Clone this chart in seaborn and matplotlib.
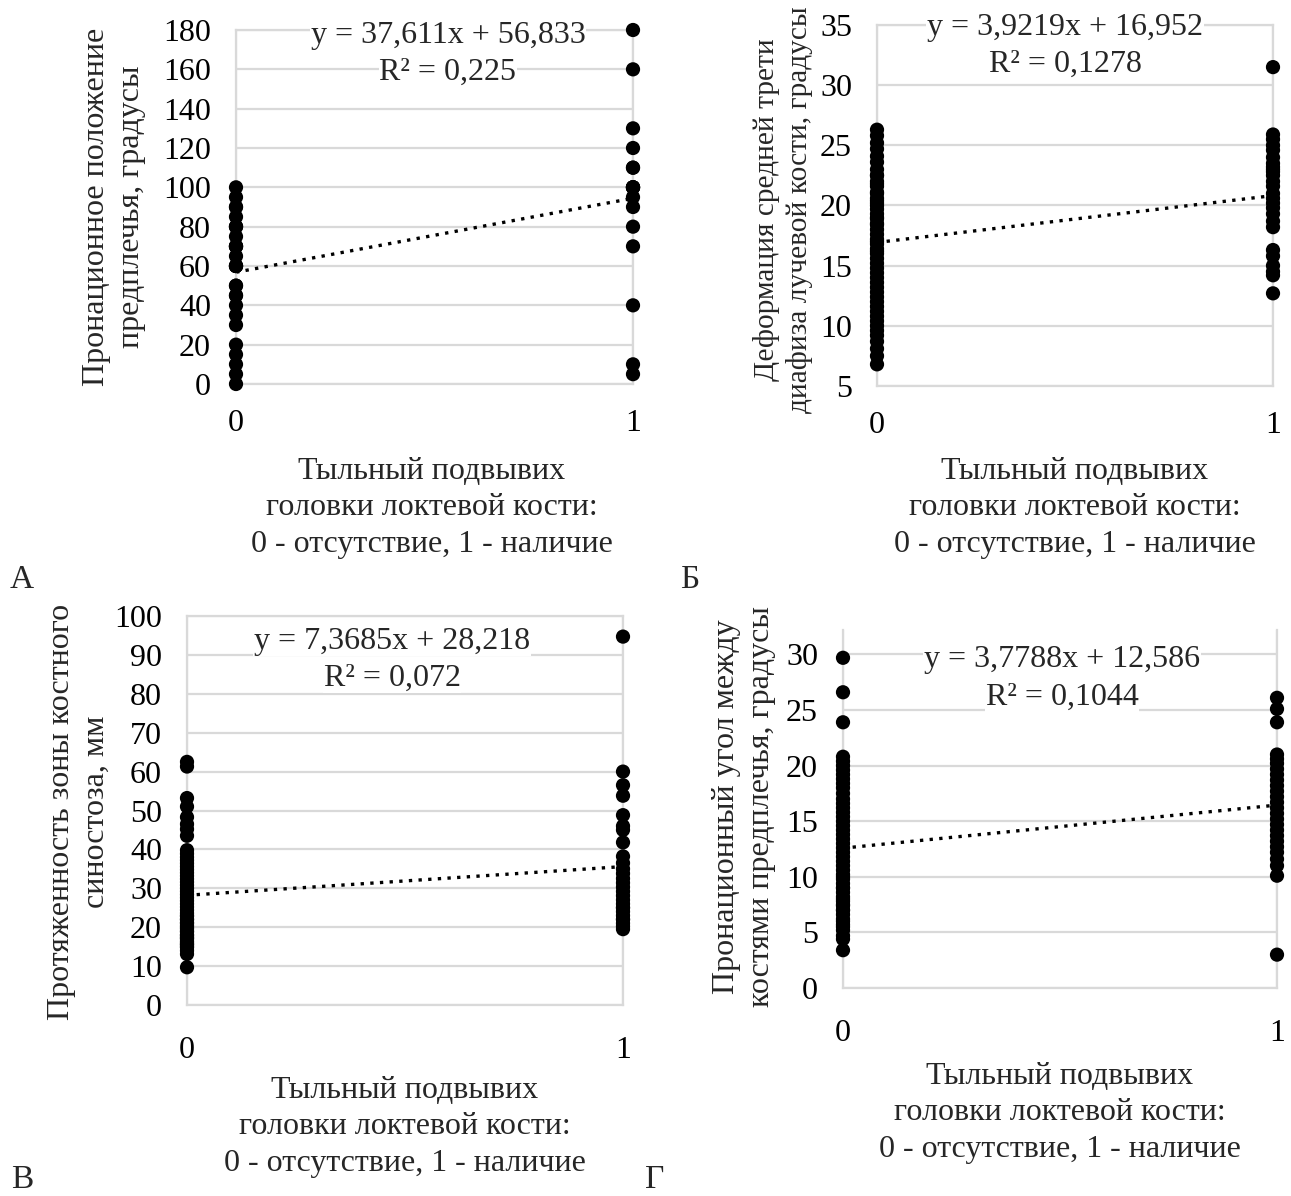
import numpy as np
import pandas as pd
import seaborn as sns
import matplotlib
matplotlib.use("Agg")
import matplotlib.pyplot as plt

# ---------------- data ----------------
# Panel A: pronation position of forearm, degrees
a_group0 = [100, 95, 90, 85, 80, 75, 70, 65, 60, 50, 45, 40, 35, 30, 20, 15, 10, 5, 0,
            90, 80, 80, 70, 70, 60, 60, 60, 50, 45, 70]
a_group1 = [180, 160, 130, 120, 110, 110, 100, 100, 100, 100, 100, 95, 90, 80, 70, 40, 10, 5]

# Panel B: deformation of middle third of radius diaphysis, degrees
b_group0 = [26.3, 25.8, 25.2, 24.7, 24.1, 23.6, 23.0, 22.5, 22.0, 21.6, 21.1, 20.6, 20.2,
            19.7, 19.3, 18.9, 18.4, 18.0, 17.6, 17.2, 16.8, 16.4, 16.0, 15.6, 15.2, 14.8,
            14.4, 14.0, 13.6, 13.2, 12.8, 12.4, 12.0, 11.6, 11.2, 10.8, 10.4, 10.0, 9.6,
            9.2, 8.7, 8.1, 7.5, 6.8, 17.0, 18.5, 16.2, 19.0, 20.4, 21.8, 20.0, 21.0, 22.5]
b_group1 = [31.5, 25.9, 25.5, 25.0, 24.6, 24.0, 23.5, 23.0, 22.5, 22.0, 21.6, 21.0, 20.6,
            20.2, 19.8, 19.3, 18.7, 18.2, 16.3, 15.8, 15.0, 14.5, 14.2, 12.7, 22.8, 23.2]

# Panel C: length of bone synostosis zone, mm
c_group0 = [62.5, 61.3, 53.2, 51.0, 48.3, 46.5, 45.2, 43.5, 39.8, 38.9, 38.0, 37.2, 36.4,
            35.6, 34.8, 34.0, 33.2, 32.4, 31.6, 30.8, 30.0, 29.2, 28.4, 27.6, 26.8, 26.0,
            25.2, 24.4, 23.6, 22.8, 22.0, 21.2, 20.4, 19.6, 18.8, 18.0, 17.2, 16.4, 15.6,
            14.8, 14.0, 13.1, 9.7, 15.0, 16.0, 17.0, 18.0, 19.0, 20.0, 21.0, 22.0, 23.0,
            15.5, 17.5]
c_group1 = [94.7, 60.0, 56.5, 53.8, 48.8, 46.0, 45.0, 41.8, 38.2, 36.5, 35.0, 33.8, 32.5,
            31.4, 30.3, 29.2, 28.1, 27.0, 26.0, 25.0, 24.0, 23.0, 22.0, 21.0, 20.2, 19.5,
            22.0, 25.0]

# Panel D: pronation angle between forearm bones, degrees
d_group0 = [29.7, 26.6, 23.9, 20.8, 20.4, 20.0, 19.6, 19.2, 18.8, 18.4, 18.0, 17.5, 17.0,
            16.6, 16.2, 15.8, 15.4, 15.0, 14.6, 14.2, 13.8, 13.4, 13.0, 12.6, 12.2, 11.8,
            11.4, 11.0, 10.6, 10.2, 9.8, 9.4, 9.0, 8.6, 8.2, 7.8, 7.4, 7.0, 6.6, 6.2, 5.7,
            5.2, 4.7, 4.4, 3.4, 5.5, 6.0, 7.0, 8.0, 9.0, 10.0, 7.5]
d_group1 = [26.1, 25.1, 23.9, 21.0, 20.6, 20.2, 19.7, 19.2, 18.7, 18.2, 17.7, 17.2, 16.7,
            16.2, 15.7, 15.2, 14.7, 14.2, 13.7, 13.2, 12.7, 12.2, 11.6, 11.0, 10.1, 3.0]

x_ticks = [0, 1]
a_yticks = [0, 20, 40, 60, 80, 100, 120, 140, 160, 180]
b_yticks = [5, 10, 15, 20, 25, 30, 35]
c_yticks = [0, 10, 20, 30, 40, 50, 60, 70, 80, 90, 100]
d_yticks = [0, 5, 10, 15, 20, 25, 30]

x_label = "Тыльный подвывих\nголовки локтевой кости:\n0 - отсутствие, 1 - наличие"
a_ylabel = "Пронационное положение\nпредплечья, градусы"
b_ylabel = "Деформация средней трети\nдиафиза лучевой кости, градусы"
c_ylabel = "Протяженность зоны костного\nсиностоза, мм"
d_ylabel = "Пронационный угол между\nкостями предплечья, градусы"

a_eq = ["y = 37,611x + 56,833", "R² = 0,225"]
b_eq = ["y = 3,9219x + 16,952", "R² = 0,1278"]
c_eq = ["y = 7,3685x + 28,218", "R² = 0,072"]
d_eq = ["y = 3,7788x + 12,586", "R² = 0,1044"]

panel_letters = ["А", "Б", "В", "Г"]

# ---------------- style ----------------
sns.set_theme(style="white")
plt.rcParams["font.family"] = ["Liberation Serif", "DejaVu Serif"]
plt.rcParams["axes.axisbelow"] = True

W, H = 1291, 1196
FS = 23
GRID = "#d9d9d9"
fig = plt.figure(figsize=(W / 100, H / 100), dpi=100)


def px(x, y):
    return x / W, 1 - y / H


def make_panel(x0, x1, ytop, ybot, g0, g1, yticks, ylim, top_line,
               ylab, ylab_xy, ylab_fs, xlab_xy, eq, eq_xy, xpad):
    ax = fig.add_axes([x0 / W, 1 - ybot / H, (x1 - x0) / W, (ybot - ytop) / H])
    df = pd.DataFrame({"x": [0] * len(g0) + [1] * len(g1), "y": list(g0) + list(g1)})
    sns.regplot(data=df, x="x", y="y", ax=ax, scatter=False, ci=None, truncate=True,
                line_kws=dict(color="black", lw=2.4, ls=(0, (1, 1.9))))
    sns.scatterplot(data=df, x="x", y="y", ax=ax, color="black", s=105,
                    edgecolor="none", linewidth=0, clip_on=False, zorder=4, legend=False)
    ax.set_xlim(0, 1)
    ax.set_ylim(*ylim)
    ax.set_xticks(x_ticks)
    ax.set_yticks(yticks)
    ax.set_xlabel("")
    ax.set_ylabel("")
    ax.grid(True, color=GRID, lw=1.6)
    for side, sp in ax.spines.items():
        sp.set_color(GRID)
        sp.set_linewidth(1.6)
    ax.spines["top"].set_visible(top_line)
    ax.tick_params(axis="both", length=0, labelsize=FS, colors="black")
    ax.tick_params(axis="y", pad=18)
    ax.tick_params(axis="x", pad=xpad)
    fig.text(*px(*ylab_xy), ylab, rotation=90, ha="center", va="center",
             multialignment="center", fontsize=ylab_fs, linespacing=1.3)
    fig.text(*px(*xlab_xy), x_label, ha="center", va="center",
             multialignment="center", fontsize=FS, linespacing=1.35)
    bb = dict(facecolor="white", edgecolor="none", pad=0.5)
    fig.text(*px(eq_xy[0], eq_xy[1]), eq[0], ha="center", va="center", fontsize=FS, bbox=bb)
    fig.text(*px(eq_xy[0], eq_xy[2]), eq[1], ha="center", va="center", fontsize=FS, bbox=bb)
    return ax


make_panel(236, 633, 30, 384, a_group0, a_group1, a_yticks, (0, 180), True,
           a_ylabel, (114, 207), FS, (432, 508), a_eq, (448, 35, 72), 18)
make_panel(877, 1273, 25, 386, b_group0, b_group1, b_yticks, (5, 35), True,
           b_ylabel, (783, 210), 21.2, (1075, 508), b_eq, (1065, 28, 64), 18)
make_panel(187, 623, 616, 1005, c_group0, c_group1, c_yticks, (0, 100), True,
           c_ylabel, (79, 812), FS, (405, 1127), c_eq, (392, 641, 678), 22)
make_panel(843, 1277, 630, 988, d_group0, d_group1, d_yticks, (0, 32.2), False,
           d_ylabel, (744, 807), FS, (1060, 1113), d_eq, (1062, 660, 697), 22)

for letter, (lx, ly) in zip(panel_letters, [(22, 580), (690, 580), (22, 1180), (655, 1180)]):
    fig.text(*px(lx, ly), letter, ha="center", va="center", fontsize=FS + 1)

fig.savefig("out.png", dpi=100)
